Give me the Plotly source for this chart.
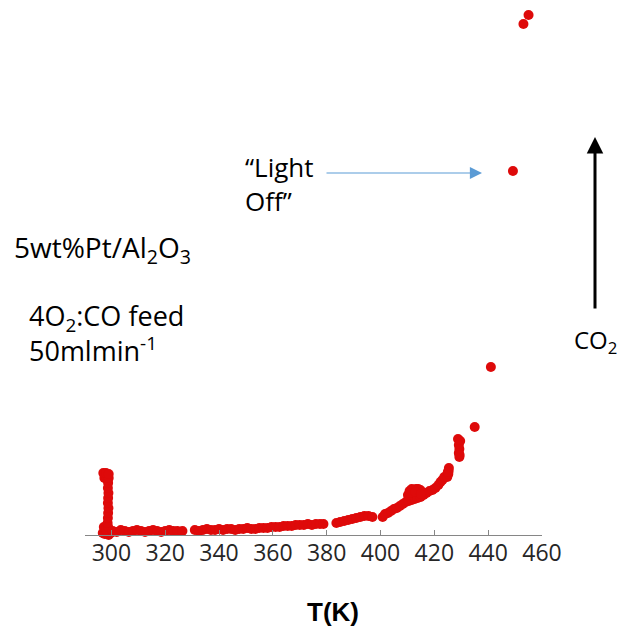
import plotly.graph_objects as go

# ---- data (T in K, CO2 signal in arbitrary units) ----
hold_T = [296.8, 297.5, 298.3, 299.0, 299.8, 297.2, 298.0, 298.8, 298.6, 298.7, 298.8, 298.9,
          298.7, 298.8, 298.9, 298.7, 298.8, 298.6, 297.4, 298.2, 299.0, 297.0, 298.0, 299.0]
hold_CO2 = [2, 1, 3, 0, 2, 8, 6, 8, 12, 17, 22, 27,
            32, 37, 42, 47, 52, 55, 57, 58, 57, 62, 62, 61]

band1_T = [300.5, 302, 303.5, 305, 306.5, 308, 309.5, 311, 312.5, 314, 315.5, 317, 318.5,
           320, 321.5, 323, 324.5, 326.4]
band1_CO2 = [4, 3, 5, 4, 3, 4, 5, 4, 3, 4, 5, 4, 3, 4, 5, 4, 4, 4]

band2_T = [331, 332.5, 334, 335.5, 337, 338.5, 340, 341.5, 343, 344.5, 346, 347.5, 349, 350.5,
           352, 353.5, 355, 356.5, 358, 359.5, 361, 362.5, 364, 365.5, 367, 368.5, 370, 371.5,
           373, 374.5, 376, 377.5, 378.8]
band2_CO2 = [5, 4, 5, 6, 5, 5, 6, 5, 6, 6, 5, 6, 6, 7, 6, 6, 7, 7, 7, 8, 8, 8, 9, 9, 9, 10, 10,
             10, 11, 10, 11, 11, 11]

band3_T = [383.6, 385, 386.5, 388, 389.5, 391, 392.5, 394, 395.5, 397]
band3_CO2 = [12, 13, 14, 15, 16, 17, 18, 19, 19, 18]

band4_T = [400.8, 401.7, 402.8, 403.9, 405, 406.1, 407.2, 408.3, 409.4, 410.5, 411.6, 412.7,
           413.8, 414.9, 416, 417.1, 418.2, 419.3, 420.4, 421.5, 422.3, 423.0, 423.7,
           410.2, 410.8, 411.6, 412.4, 413.2, 414, 414.8, 415.4, 411, 413, 415]
band4_CO2 = [18, 21, 22, 24, 26, 27, 29, 31, 33, 34, 35, 36, 37, 38, 40, 42, 44, 45, 47, 50,
             53, 55, 58,
             40, 44, 46, 45, 46, 46, 45, 43, 42, 43, 41]

rise_T = [424.8, 425.2, 425.3, 425.4, 425.0,
          428.8, 429.6, 429.1, 429.3, 429.1, 429.3, 429.4,
          435.0, 441.0, 449.2, 453.1, 455.0]
rise_CO2 = [58, 61, 64, 67, 63,
            96, 94, 90, 86, 82, 78, 80,
            108, 168, 364, 511, 520]

T = hold_T + band1_T + band2_T + band3_T + band4_T + rise_T
CO2 = hold_CO2 + band1_CO2 + band2_CO2 + band3_CO2 + band4_CO2 + rise_CO2

x_ticks = [300, 320, 340, 360, 380, 400, 420, 440, 460]

# ---- figure (page has an 8px body margin on every side; keep the page from overflowing) ----
OFF = 8
W, H = 625 - 2 * OFF, 634 - 2 * OFF
ML = 85 - OFF
PW = 457
MR = W - ML - PW
MT = 0
PH = 535 - OFF
MB = H - PH


def px(xp):
    return (xp - OFF - ML) / PW


def py(yp):
    return (PH - (yp - OFF)) / PH


fig = go.Figure()
fig.add_trace(go.Scatter(
    x=T, y=CO2, mode="markers",
    marker=dict(color="rgb(222,10,10)", size=10, line=dict(width=0)),
    cliponaxis=False, showlegend=False, hoverinfo="x+y",
))

txt_font = dict(family="Open Sans, sans-serif", color="#000000")

annotations = [
    dict(text="5wt%Pt/Al<sub>2</sub>O<sub>3</sub>", x=px(12), y=py(249), xanchor="left", yanchor="middle",
         font=dict(size=28, **txt_font)),
    dict(text="4O<sub>2</sub>:CO feed<br>50mlmin<sup>-1</sup>", x=px(27), y=py(333),
         xanchor="left", yanchor="middle", align="left",
         font=dict(size=27, **txt_font)),
    dict(text="\u201cLight<br>Off\u201d", x=px(243), y=py(184), xanchor="left", yanchor="middle",
         align="left", font=dict(size=26, **txt_font)),
    dict(text="CO<sub>2</sub>", x=px(595), y=py(341), xanchor="center", yanchor="middle",
         font=dict(size=24, **txt_font)),
    dict(text="<b>T(K)</b>", x=px(333), y=py(612), xanchor="center", yanchor="middle",
         borderpad=0,
         font=dict(size=26, family="Liberation Sans, Arial, sans-serif", color="#000000")),
    # blue "light off" arrow
    dict(text="", x=px(482), y=py(173), ax=325 - 482, ay=0, showarrow=True,
         arrowhead=2, arrowsize=2.2, arrowwidth=1.1, arrowcolor="#5B9BD5"),
    # black CO2 arrow
    dict(text="", x=px(595), y=py(137), ax=0, ay=310 - 137, showarrow=True,
         arrowhead=2, arrowsize=1.1, arrowwidth=3, arrowcolor="#000000"),
]
for a in annotations:
    a.setdefault("xref", "paper")
    a.setdefault("yref", "paper")
    a.setdefault("showarrow", False)

fig.update_layout(
    width=W, height=H,
    margin=dict(l=ML, r=MR, t=MT, b=MB, pad=0),
    paper_bgcolor="white", plot_bgcolor="white",
    annotations=annotations,
    xaxis=dict(
        range=[290.2, 460], tickvals=x_ticks, ticktext=[str(v) for v in x_ticks],
        showgrid=False, zeroline=False, showline=True, linecolor="#868686", linewidth=1,
        ticks="inside", ticklen=5, tickcolor="#868686", tickwidth=1,
        tickfont=dict(family="Open Sans, sans-serif", size=23, color="#262626"),
        ticklabelstandoff=-3,
    ),
    yaxis=dict(range=[0, PH], visible=False, showgrid=False, zeroline=False),
)

fig.write_html("out.html")
